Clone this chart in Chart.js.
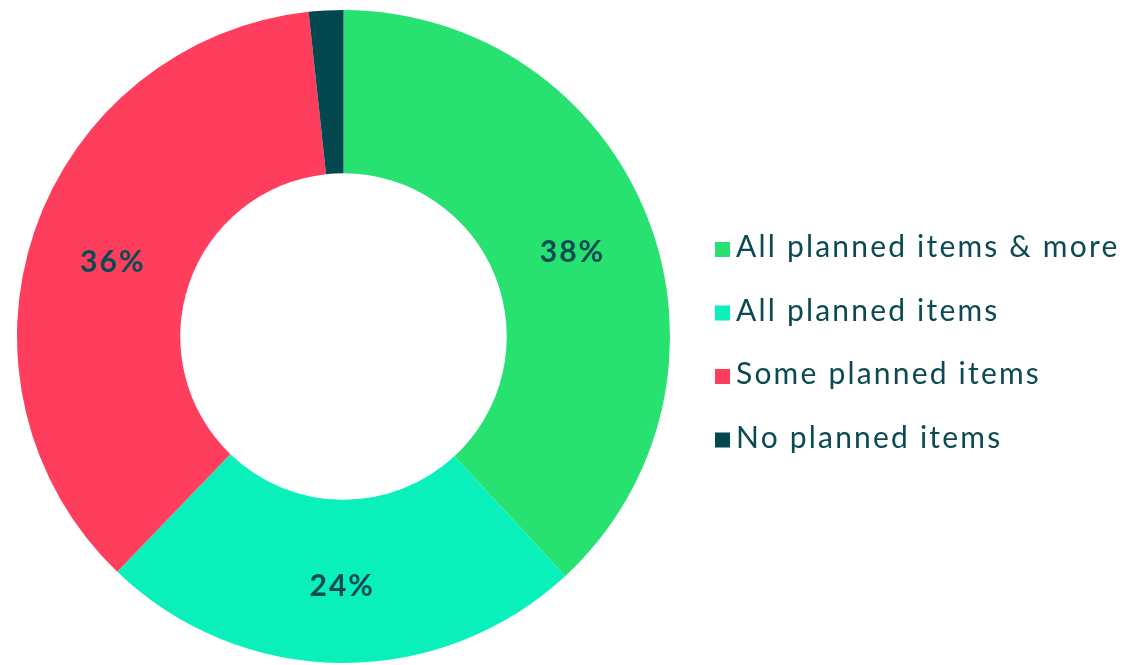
<!DOCTYPE html>
<html>
<head>
<meta charset="utf-8">
<script src="https://cdn.jsdelivr.net/npm/chart.js@4/dist/chart.umd.min.js"></script>
<style>
  html, body { margin: 0; padding: 0; background: #fff; }
  #wrap { width: 1126px; height: 665px; position: relative; }
</style>
</head>
<body>
<div id="wrap"><canvas id="donut" width="1126" height="665"></canvas></div>
<script>
// Survey answers and their share of responses (%)
const categories = ['All planned items & more', 'All planned items', 'Some planned items', 'No planned items'];
const shares = [38, 24, 36, 1.7];
const sliceColors = ['#27e170', '#0af0bb', '#ff3e5e', '#03474f'];
const labelled = [true, true, true, false];

const TEXT_COLOR = '#0b4a52';
const FONT = 'Lato, "Open Sans", sans-serif';

// percentage text drawn at the middle of each arc
const sliceLabels = {
    id: 'sliceLabels',
    afterDatasetsDraw(chart) {
        const ctx = chart.ctx;
        const meta = chart.getDatasetMeta(0);
        ctx.save();
        ctx.fillStyle = TEXT_COLOR;
        ctx.font = `bold 30px ${FONT}`;
        ctx.letterSpacing = '2px';
        ctx.textAlign = 'center';
        ctx.textBaseline = 'middle';
        meta.data.forEach((arc, i) => {
            if (!labelled[i]) return;
            const pos = arc.tooltipPosition();
            ctx.fillText(Math.round(shares[i]) + '%', pos.x + 1, pos.y + 5);
        });
        ctx.restore();
    }
};

// legend on the right: small square, label text beside it
const sideLegend = {
    id: 'sideLegend',
    afterDraw(chart) {
        const ctx = chart.ctx;
        const x0 = 715, firstBase = 257, step = 63.5, box = 15;
        ctx.save();
        ctx.font = `30px ${FONT}`;
        ctx.letterSpacing = '2.2px';
        ctx.textBaseline = 'alphabetic';
        ctx.textAlign = 'left';
        chart.data.labels.forEach((lab, i) => {
            const base = firstBase + i * step;
            ctx.fillStyle = sliceColors[i];
            ctx.fillRect(x0, base - box, box, box);
            ctx.fillStyle = TEXT_COLOR;
            ctx.fillText(lab, x0 + box + 6, base);
        });
        ctx.restore();
    }
};

new Chart(document.getElementById('donut'), {
    type: 'doughnut',
    data: {
        labels: categories,
        datasets: [{
            data: shares,
            backgroundColor: sliceColors,
            borderWidth: 0
        }]
    },
    options: {
        responsive: false,
        animation: false,
        cutout: '50%',
        layout: { padding: { left: 15, right: 454, top: 10, bottom: 2 } },
        plugins: {
            legend: { display: false },
            tooltip: { enabled: false }
        }
    },
    plugins: [sliceLabels, sideLegend]
});
</script>
</body>
</html>
